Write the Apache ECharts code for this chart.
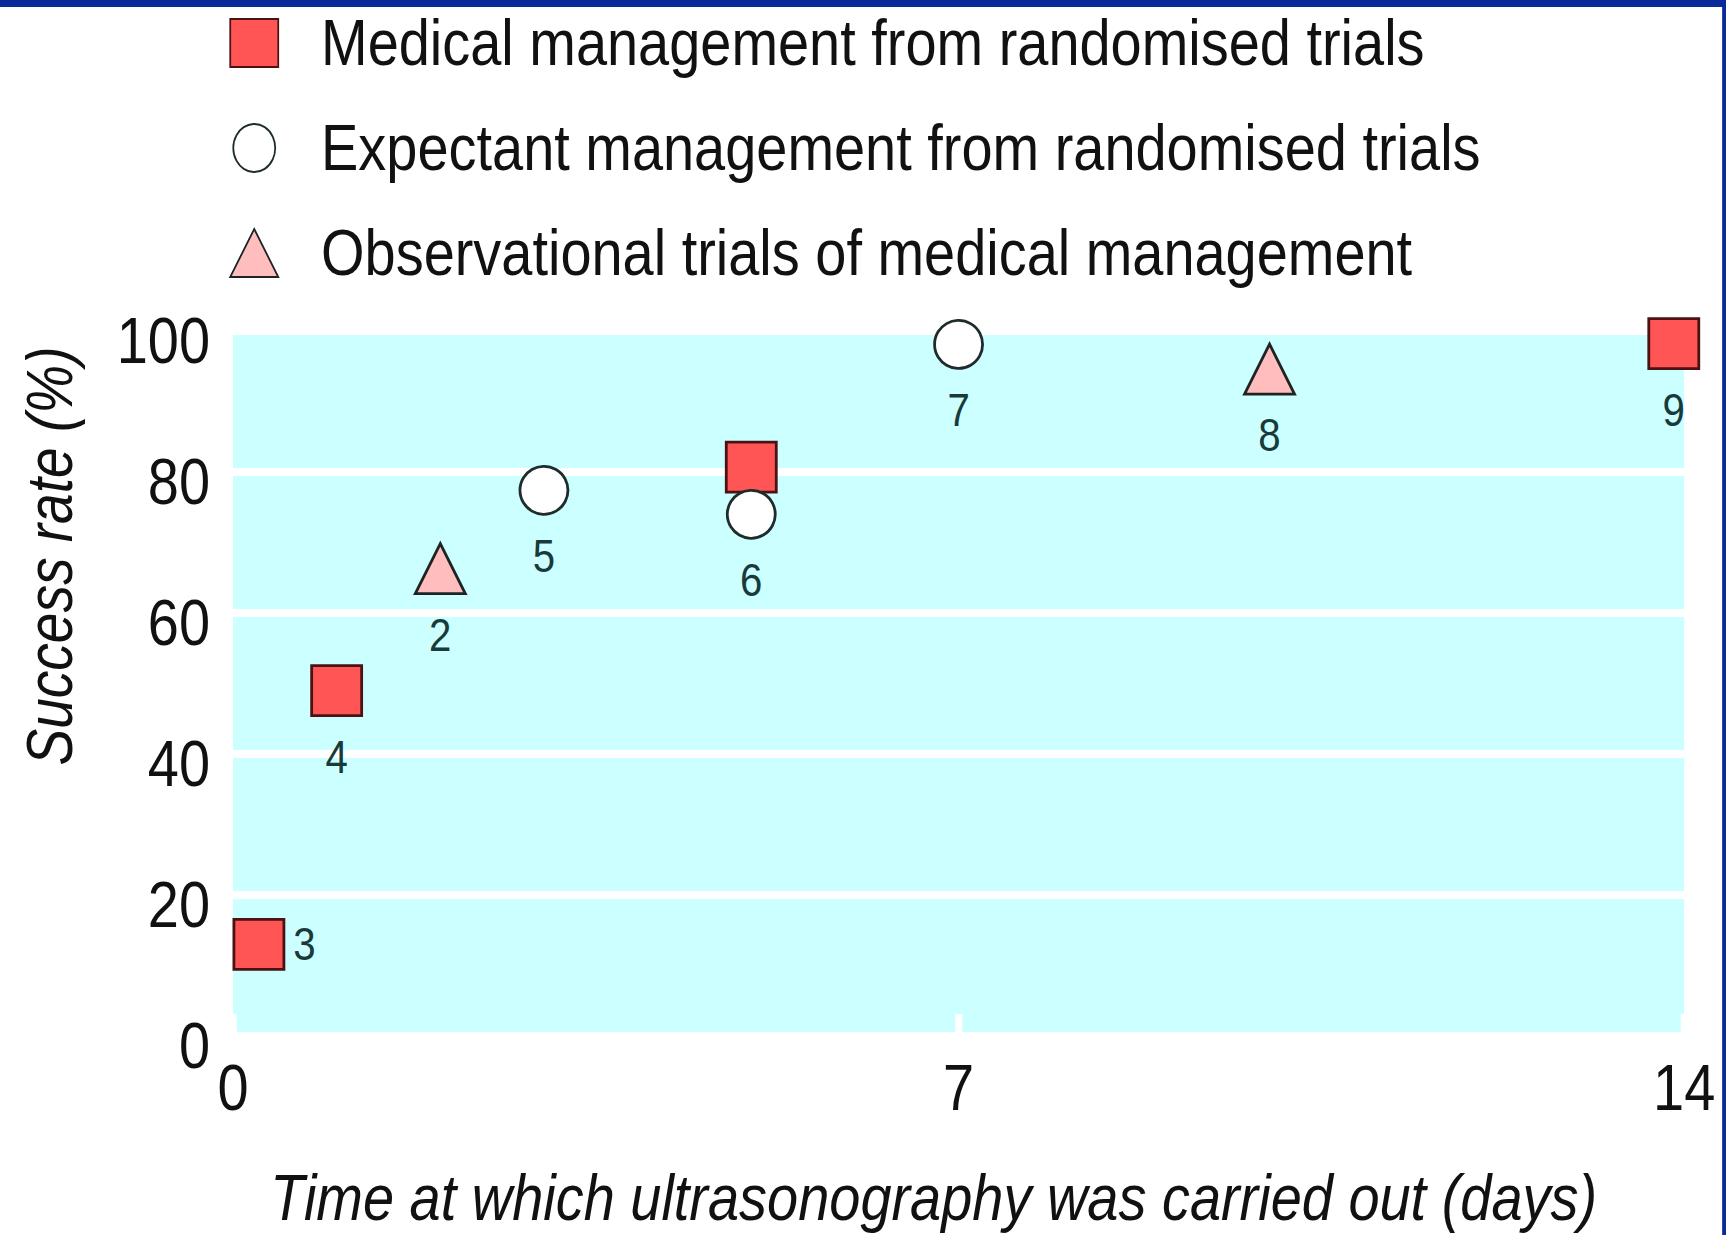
<!DOCTYPE html>
<html>
<head>
<meta charset="utf-8">
<script src="https://cdn.jsdelivr.net/npm/echarts@6/dist/echarts.min.js"></script>
<style>
html,body{margin:0;padding:0;background:#fff;width:1726px;height:1235px;overflow:hidden;}
#chart{width:1975px;height:1235px;transform:scaleX(0.874);transform-origin:0 0;}
</style>
</head>
<body>
<div id="chart"></div>
<script>
// Series names (legend)
const seriesNames = [
  'Medical management from randomised trials',
  'Expectant management from randomised trials',
  'Observational trials of medical management'
];
// [day, success %, study number]
const medicalRandomised = [[0.25, 13, '3'], [1, 49, '4'], [5, 80.7, ''], [13.9, 98.2, '9']];
const expectantRandomised = [[3, 77.4, '5'], [5, 74, '6'], [7, 98.1, '7']];
const observational = [[2, 66.3, '2'], [10, 94.6, '8']];
// Axes
const xTicks = [0, 7, 14];
const yTicks = [0, 20, 40, 60, 80, 100];
const xAxisTitle = 'Time at which ultrasonography was carried out (days)';
const yAxisTitle = 'Success rate (%)';

// The original uses a condensed face; the whole drawing is squeezed horizontally by K
const K = 0.874;
const FONT = "'Liberation Sans', Arial, sans-serif";

function toData(arr) {
  return arr.map(d => ({ value: [d[0], d[1]], name: d[2],
    label: d[2] === '3' ? { position: 'right', distance: 8 / K } : undefined }));
}

const labelCfg = {
  show: true,
  position: 'bottom',
  distance: 17,
  formatter: p => p.name,
  color: '#183a3a',
  fontSize: 46,
  fontFamily: FONT
};

const chart = echarts.init(document.getElementById('chart'), null, { renderer: 'svg' });
chart.setOption({
  animation: false,
  backgroundColor: '#ffffff',
  graphic: [
    { type: 'rect', left: 0, top: 0, shape: { width: 1975, height: 7 }, style: { fill: '#0a2a9c' }, z: 100 },
    { type: 'rect', right: 0, top: 0, shape: { width: 4 / K, height: 1235 }, style: { fill: '#0a2a9c' }, z: 100 },
    {
      type: 'text', x: 50 / K, y: 556, rotation: Math.PI / 2, scaleX: 0.86, scaleY: 1 / K,
      style: { text: yAxisTitle, font: 'italic 64px ' + FONT, fill: '#111', align: 'center', verticalAlign: 'middle' },
      z: 50
    }
  ],
  legend: {
    orient: 'vertical',
    left: 225 / K,
    top: 6,
    itemWidth: 48 / K,
    itemHeight: 48,
    itemGap: 41,
    symbolKeepAspect: false,
    textStyle: { fontSize: 64, lineHeight: 64, color: '#111', fontFamily: FONT, padding: [0, 0, 0, 44] },
    data: seriesNames
  },
  grid: { left: 233 / K, right: 42 / K, top: 331, bottom: 191, show: true, backgroundColor: '#ccffff', borderWidth: 0 },
  xAxis: {
    type: 'value', min: 0, max: 14, interval: 7,
    axisLine: { show: false },
    axisTick: { show: true, inside: true, length: 22, lineStyle: { color: '#ffffff', width: 8 } },
    splitLine: { show: false },
    axisLabel: { color: '#111', fontSize: 64, fontFamily: FONT, margin: 20,
      formatter: v => xTicks.includes(v) ? String(v) : '' },
    name: xAxisTitle, nameLocation: 'middle', nameGap: 130,
    nameTextStyle: { fontSize: 64, fontStyle: 'italic', color: '#111', fontFamily: FONT, padding: [0, 57, 0, 0] }
  },
  yAxis: {
    type: 'value', min: 0, max: 100, interval: 20,
    axisLine: { show: false },
    axisTick: { show: false },
    splitLine: { show: true, lineStyle: { color: '#ffffff', width: 8 } },
    axisLabel: { margin: 23 / K,
      formatter: v => yTicks.includes(v) ? '{t|' + v + '}' : '',
      rich: { t: { color: '#111', fontSize: 64, fontFamily: FONT, padding: [20, 0, 0, 0] } } }
  },
  series: [
    {
      name: seriesNames[0], type: 'scatter', symbol: 'rect', symbolSize: [50 / K, 50],
      itemStyle: { color: '#ff5555', borderColor: '#4a1212', borderWidth: 3, opacity: 1 },
      label: labelCfg, data: toData(medicalRandomised), z: 3
    },
    {
      name: seriesNames[1], type: 'scatter', symbol: 'circle', symbolSize: [48 / K, 48],
      itemStyle: { color: '#ffffff', borderColor: '#1e2c2c', borderWidth: 3, opacity: 1 },
      label: labelCfg, data: toData(expectantRandomised), z: 4
    },
    {
      name: seriesNames[2], type: 'scatter', symbol: 'triangle', symbolSize: [50 / K, 50],
      itemStyle: { color: '#ffbdbd', borderColor: '#1e2424', borderWidth: 3, opacity: 1 },
      label: labelCfg, data: toData(observational), z: 3
    }
  ]
});
</script>
</body>
</html>
